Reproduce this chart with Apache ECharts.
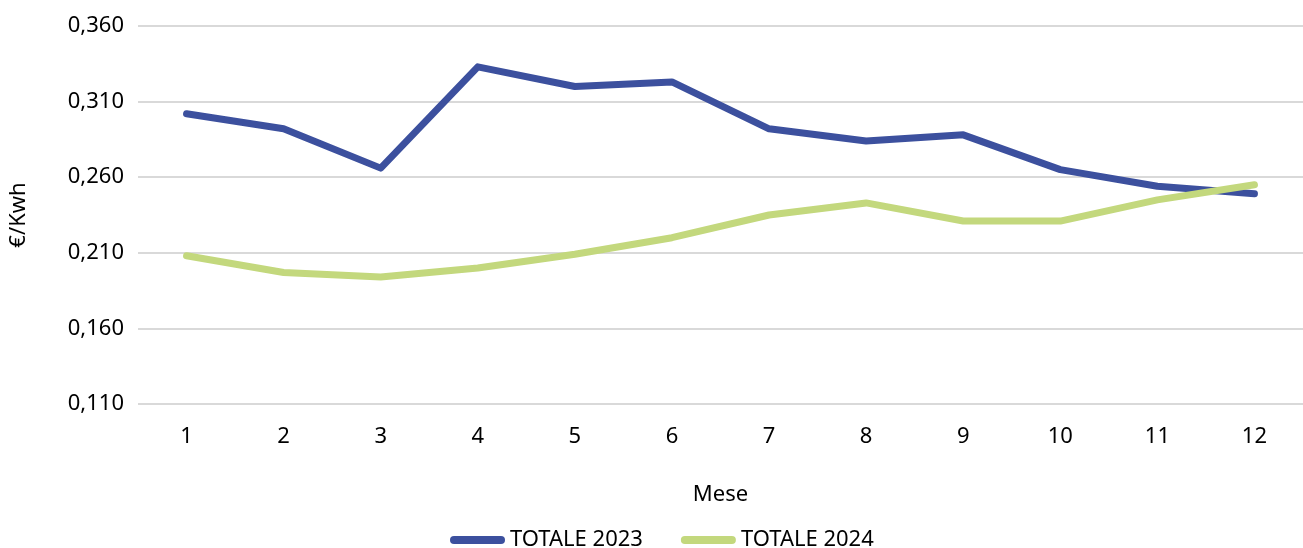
<!DOCTYPE html>
<html>
<head>
<meta charset="utf-8">
<script src="https://cdn.jsdelivr.net/npm/echarts@6/dist/echarts.min.js"></script>
<style>
  html, body { margin: 0; padding: 0; background: #fff; }
  #chart { width: 1303px; height: 548px; }
</style>
</head>
<body>
<div id="chart"></div>
<script>
// dati
var mesi = ['1', '2', '3', '4', '5', '6', '7', '8', '9', '10', '11', '12'];
var totale2023 = [0.302, 0.292, 0.266, 0.333, 0.320, 0.323, 0.292, 0.284, 0.288, 0.265, 0.254, 0.249];
var totale2024 = [0.208, 0.197, 0.194, 0.200, 0.209, 0.220, 0.235, 0.243, 0.231, 0.231, 0.245, 0.255];
var nomiSerie = ['TOTALE 2023', 'TOTALE 2024'];
var colori = ['#3c509e', '#c3d87d'];

var chart = echarts.init(document.getElementById('chart'));
var font = 'Noto Sans';
var pill = 'path://M4,0 L51,0 A4,4 0 0 1 51,8 L4,8 A4,4 0 0 1 4,0 Z';

var option = {
  animation: false,
  textStyle: { fontFamily: font },
  grid: { left: 138, right: 0, top: 26, bottom: 144 },
  legend: {
    top: 524,
    left: 445,
    itemWidth: 55,
    itemHeight: 8,
    itemGap: 38,
    textStyle: { fontFamily: font, fontSize: 22, color: '#000' },
    data: nomiSerie.map(function (n) { return { name: n, icon: pill }; })
  },
  xAxis: {
    type: 'category',
    data: mesi,
    boundaryGap: true,
    name: 'Mese',
    nameLocation: 'middle',
    nameGap: 80,
    nameTextStyle: { fontSize: 22, color: '#000', fontFamily: font },
    axisLine: { show: false },
    axisTick: { show: false },
    axisLabel: { fontSize: 22, color: '#000', margin: 22 }
  },
  yAxis: {
    type: 'value',
    min: 0.11,
    max: 0.36,
    interval: 0.05,
    name: '€/Kwh',
    nameLocation: 'middle',
    nameGap: 108,
    nameTextStyle: { fontSize: 22, color: '#000', fontFamily: font },
    axisLine: { show: false },
    axisTick: { show: false },
    axisLabel: {
      fontSize: 22,
      color: '#000',
      margin: 14,
      formatter: function (v) { return v.toFixed(3).replace('.', ','); }
    },
    splitLine: { lineStyle: { color: '#d9d9d9', width: 2 } }
  },
  series: [
    {
      name: nomiSerie[0],
      type: 'line',
      data: totale2023,
      symbol: 'none',
      lineStyle: { color: colori[0], width: 7, cap: 'round', join: 'round' },
      itemStyle: { color: colori[0] }
    },
    {
      name: nomiSerie[1],
      type: 'line',
      data: totale2024,
      symbol: 'none',
      lineStyle: { color: colori[1], width: 7, cap: 'round', join: 'round' },
      itemStyle: { color: colori[1] }
    }
  ]
};

chart.setOption(option);
</script>
</body>
</html>
